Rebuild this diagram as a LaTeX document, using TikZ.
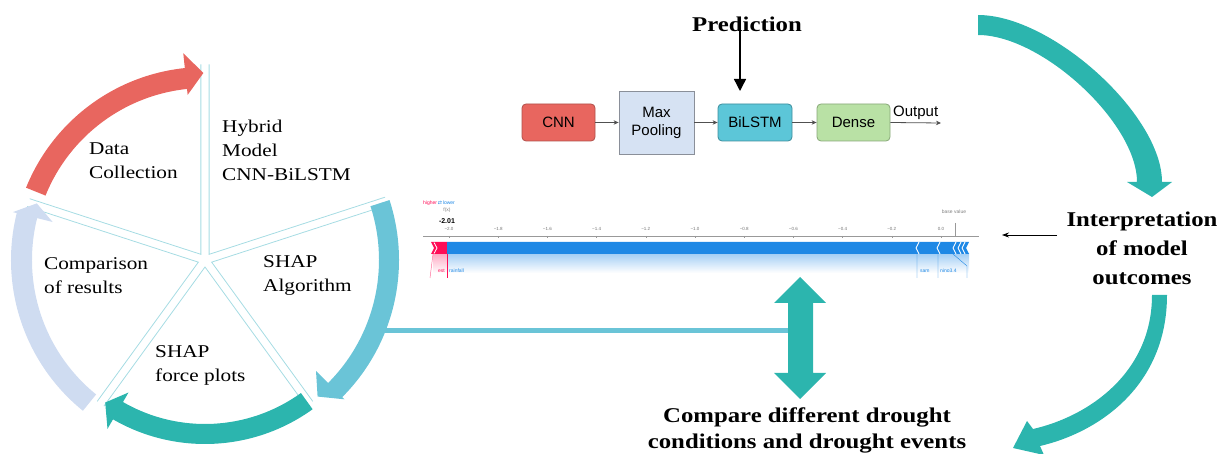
\documentclass[tikz,border=0pt]{standalone}
\usepackage{fontspec}
\setmainfont{Liberation Serif}[FakeStretch=1.18]
\setsansfont{Liberation Sans}
\newfontfamily\symfont{DejaVu Sans}
\usetikzlibrary{arrows.meta,calc}
\definecolor{teal1}{HTML}{2CB5AE}
\definecolor{lblue}{HTML}{6AC4D7}
\definecolor{redw}{HTML}{E8665F}
\definecolor{pale}{HTML}{CFDCF1}
\definecolor{spoke}{HTML}{A6DCE3}
\definecolor{shappink}{HTML}{FF0D57}
\definecolor{shapblue}{HTML}{1E88E5}
\definecolor{cnnfill}{HTML}{E8665F}
\definecolor{cnnline}{HTML}{B0504B}
\definecolor{mpfill}{HTML}{D6E2F3}
\definecolor{mpline}{HTML}{8A8F99}
\definecolor{bifill}{HTML}{5CC6D8}
\definecolor{biline}{HTML}{3D8D9C}
\definecolor{dnfill}{HTML}{B9E1A5}
\definecolor{dnline}{HTML}{88A878}
\definecolor{arrowgray}{HTML}{505050}
\newcommand\wheelarrow[8]{%
  \fill[#1] (#2:#5) arc[start angle=#2, end angle=#3, radius=#5]
    -- (#3:#7) -- (#4:{(#7+#8)/2}) -- (#3:#8) -- (#3:#6)
    arc[start angle=#3, end angle=#2, radius=#6] -- cycle;}
\newcommand\rows[2]{\begin{tabular}[t]{@{}#1@{}}#2\end{tabular}}
\tikzset{
  box/.style={draw, minimum width=73pt, minimum height=37pt, inner sep=0pt,
    font=\sffamily\fontsize{15}{18}\selectfont, align=center, line width=0.8pt},
  flow/.style={-{Stealth[length=5pt,width=4.5pt]}, line width=0.8pt, draw=arrowgray},
  wheeltext/.style={anchor=base west, inner sep=0pt, font=\fontsize{18}{24}\selectfont},
  bigtext/.style={anchor=base, inner sep=0pt, font=\bfseries\fontsize{21}{29}\selectfont},
  spokeline/.style={draw=spoke, line width=0.8pt},
  axisline/.style={draw=gray!80, line width=0.5pt},
  ticklab/.style={anchor=base, inner sep=0pt, text=gray!90!black, font=\sffamily\fontsize{4.5}{5}\selectfont},
  smalllab/.style={inner sep=0pt, font=\sffamily\fontsize{5}{6}\selectfont},
}
\begin{document}
\begin{tikzpicture}[x=1pt,y=-1pt]
\useasboundingbox (0,0) rectangle (1219,454);

% ---------- wheel ----------
\begin{scope}[shift={(205,260)},yscale=-1]
  \foreach \t/\la/\lb in {18/185/190,90/190/180,162/180/172,234/172/172,306/172/185}
    \draw[spokeline] ({\t+36}:7) ++({\t}:\la) -- ({\t+36}:7) -- ++({\t+72}:\lb);
  \wheelarrow{redw}{158}{96}{90.5}{172}{193}{166}{208}
  \wheelarrow{pale}{231}{166}{161.4}{173}{194}{157}{198}
  \wheelarrow{lblue}{18}{-45}{-50.5}{174}{194}{157}{197}
  \wheelarrow{teal1}{-54.2}{-120}{-125}{164}{184}{153}{195}
\end{scope}

\node[wheeltext] (data) at (89,155) {\rows{l}{Data\\Collection}};
\node[wheeltext] (hyb) at (222,133) {\rows{l}{Hybrid\\Model\\CNN-BiLSTM}};
\node[wheeltext] (shapa) at (263,268) {\rows{l}{SHAP\\Algorithm}};
\node[wheeltext] (comp) at (44,270) {\rows{l}{Comparison\\of results}};
\node[wheeltext] (force) at (155,358) {\rows{l}{SHAP\\force plots}};

% ---------- connector to double arrow ----------
\coordinate (lbout) at (381,331);
\coordinate (dblw) at (789,331);
\draw[lblue, line width=5pt] (lbout) -- (dblw);
\fill[teal1] (800,277) -- (826,303) -- (813,303) -- (813,373) -- (826,373) -- (800,399)
  -- (774,373) -- (788,373) -- (788,303) -- (774,303) -- cycle;

% ---------- model pipeline ----------
\node[bigtext] (pred) at (747,32) {Prediction};
\node[box, fill=cnnfill, draw=cnnline, rounded corners=4pt] (cnn) at (558.5,122.5) {CNN};
\node[box, fill=mpfill, draw=mpline, minimum width=75pt, minimum height=63pt] (mp) at (656.5,122.5) {Max\\Pooling};
\node[box, fill=bifill, draw=biline, rounded corners=4pt, minimum width=74pt] (bil) at (755,122.5) {BiLSTM};
\node[box, fill=dnfill, draw=dnline, rounded corners=4pt] (dense) at (853.5,122.5) {Dense};
\coordinate (out) at (941,123);
\node[anchor=base west, inner sep=0pt, font=\sffamily\fontsize{15}{18}\selectfont] (outlab) at (893,117) {Output};
\draw[flow] (cnn.east) -- (mp.west |- cnn.east);
\draw[flow] (mp.east |- bil.west) -- (bil.west);
\draw[flow] (bil.east) -- (dense.west);
\draw[flow] (dense.east) -- (out);
\coordinate (predtip) at (740,91);
\draw[line width=1.4pt, -{Triangle[length=12pt,width=12pt]}] (pred.south -| predtip) ++(0,-4) -- (predtip);

% ---------- SHAP force plot ----------
\node[anchor=base west, smalllab] (hl) at (423,205) {\textcolor{shappink}{higher}\textcolor{shapblue}{\,{\symfont ⇄}\,lower}};
\node[anchor=base, smalllab, text=gray] (fx) at (447,212) {f(x)};
\node[anchor=base, inner sep=0pt, font=\sffamily\bfseries\fontsize{7}{8}\selectfont] (fv) at (447,224) {-2.01};
\node[anchor=base, smalllab, text=gray] (bv) at (954,214) {base value};
\draw[axisline] (423,236) -- (979,236);
\draw[axisline] (955,223) -- (955,236);
\foreach \v/\lab [count=\i] in {-2.0/−2.0,-1.8/−1.8,-1.6/−1.6,-1.4/−1.4,-1.2/−1.2,-1.0/−1.0,-0.8/−0.8,-0.6/−0.6,-0.4/−0.4,-0.2/−0.2,0.0/0.0} {
  \draw[axisline] ({941+\v*246},236) -- ++(0,2.5);
  \node[ticklab] (tk\i) at ({941+\v*246},231) {\lab};
}
\shade[top color=shapblue!40, bottom color=white] (447,254) rectangle (969,273);
\shade[top color=shappink!35, bottom color=white] (433,254) rectangle (447,273);
\fill[shappink] (431,242) -- (447,242) -- (447,254) -- (431,254) -- (434,248) -- cycle;
\draw[white, line width=0.8pt] (434,242.5) -- (437,248) -- (434,253.5);
\fill[shapblue] (447,242) -- (969,242) -- (966,248) -- (969,254) -- (447,254) -- cycle;
\foreach \x in {916,937,953,958,962}
  \draw[white, line width=0.9pt] (\x+3,242) -- (\x,248) -- (\x+3,254);
\draw[shappink, line width=0.4pt] (447,254) -- (447,278);
\draw[shappink!70, line width=0.4pt] (433,254) -- (430,278);
\draw[shapblue, line width=0.4pt] (917,254) -- (917,278) (938,254) -- (938,278) (953,254) -- (967,266) -- (967,278);
\node[anchor=base east, smalllab, text=shappink] (est) at (445,273) {est};
\node[anchor=base west, smalllab, text=shapblue] (rain) at (449,273) {rainfall};
\node[anchor=base west, smalllab, text=shapblue] (sam) at (920,273) {sam};
\node[anchor=base west, smalllab, text=shapblue] (nino) at (940,273) {nino3.4};

% ---------- right side ----------
\node[bigtext] (interp) at (1142,227) {\rows{c}{Interpretation\\of model\\outcomes}};
\coordinate (ia) at (1057,235);
\coordinate (ib) at (1002,235);
\draw[line width=0.8pt, -{Stealth[length=7pt,width=5pt]}] (ia) -- (ib);
\fill[teal1] (978,15) .. controls (1052,15) and (1162,115) .. (1162,182) -- (1172,182) -- (1152,197)
  -- (1127,182) -- (1137,182) .. controls (1137,123) and (1042,35) .. (978,35) -- cycle;
\fill[teal1] (1152,295) -- (1167,295) .. controls (1167,385) and (1100,432) .. (1040,446)
  -- (1044,455) -- (1013,448) -- (1027,421) -- (1033,429)
  .. controls (1090,416) and (1152,372) .. (1152,295) -- cycle;

\node[bigtext, font=\bfseries\fontsize{21}{25}\selectfont] (cmp) at (807,423) {\rows{c}{Compare different drought\\conditions and drought events}};
\end{tikzpicture}
\end{document}
